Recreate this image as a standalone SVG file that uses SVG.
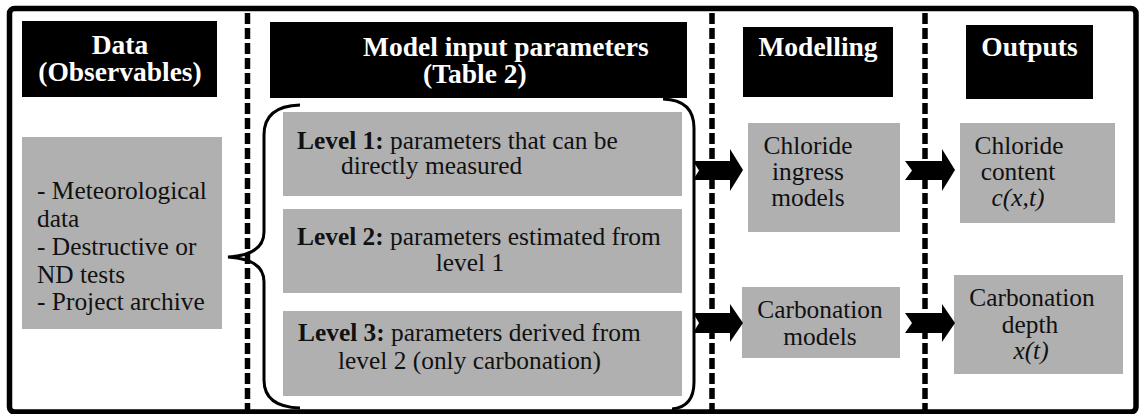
<svg xmlns="http://www.w3.org/2000/svg" width="1139" height="414" viewBox="0 0 1139 414">
<style>
.hdr{fill:#000}
.box{fill:#b0b0b0}
.ht{font-weight:bold;font-size:27.5px;fill:#fff}
.bt{font-size:25.4px;fill:#111}
.dash{stroke:#000;stroke-width:5.5;stroke-dasharray:11 4;fill:none}
.br{stroke:#000;stroke-width:3;fill:none}
.arr{fill:#000}
</style>
<rect x="9.5" y="8.5" width="1126.5" height="403.5" rx="5" fill="#fff" stroke="#000" stroke-width="5.5"/>
<g id="dividers">
<line class="dash" x1="247.5" y1="13" x2="247.5" y2="410"/>
<line class="dash" x1="712" y1="13" x2="712" y2="410"/>
<line class="dash" x1="925" y1="13" x2="925" y2="410"/>
</g>
<g id="hdr-data" font-family="serif"><rect class="hdr" x="22" y="21" width="195" height="76"/>
<text class="ht" x="120" y="54" text-anchor="middle">Data</text>
<text class="ht" x="120" y="81" text-anchor="middle">(Observables)</text></g>
<g id="hdr-params" font-family="serif"><rect class="hdr" x="270" y="22" width="417" height="76"/>
<text class="ht" x="363" y="56">Model input parameters</text>
<text class="ht" x="423" y="83">(Table 2)</text></g>
<g id="hdr-modelling" font-family="serif"><rect class="hdr" x="743" y="27" width="150" height="70"/>
<text class="ht" x="818" y="56" text-anchor="middle">Modelling</text></g>
<g id="hdr-outputs" font-family="serif"><rect class="hdr" x="966" y="25" width="127" height="74"/>
<text class="ht" x="1029.5" y="56" text-anchor="middle">Outputs</text></g>
<g id="data-box" font-family="serif"><rect class="box" x="22" y="137" width="200" height="192"/>
<text class="bt" x="37" y="199">- Meteorological</text>
<text class="bt" x="37" y="227">data</text>
<text class="bt" x="37" y="255">- Destructive or</text>
<text class="bt" x="37" y="283">ND tests</text>
<text class="bt" x="37" y="310">- Project archive</text></g>
<g id="level1" font-family="serif"><rect class="box" x="283" y="112" width="399" height="84"/>
<text class="bt" x="297" y="149"><tspan font-weight="bold">Level 1:</tspan> parameters that can be</text>
<text class="bt" x="341" y="174">directly measured</text></g>
<g id="level2" font-family="serif"><rect class="box" x="283" y="209" width="399" height="84"/>
<text class="bt" x="297" y="245"><tspan font-weight="bold">Level 2:</tspan> parameters estimated from</text>
<text class="bt" x="470" y="271" text-anchor="middle">level 1</text></g>
<g id="level3" font-family="serif"><rect class="box" x="283" y="311" width="399" height="85"/>
<text class="bt" x="298" y="341"><tspan font-weight="bold">Level 3:</tspan> parameters derived from</text>
<text class="bt" x="338" y="369">level 2 (only carbonation)</text></g>
<g id="chloride-model" font-family="serif"><rect class="box" x="748" y="123" width="152" height="109"/>
<text class="bt" x="808" y="154" text-anchor="middle">Chloride</text>
<text class="bt" x="808" y="180" text-anchor="middle">ingress</text>
<text class="bt" x="808" y="206" text-anchor="middle">models</text></g>
<g id="carbonation-model" font-family="serif"><rect class="box" x="742" y="287" width="158" height="71"/>
<text class="bt" x="820" y="318" text-anchor="middle">Carbonation</text>
<text class="bt" x="820" y="345" text-anchor="middle">models</text></g>
<g id="chloride-out" font-family="serif"><rect class="box" x="960" y="123" width="155" height="100"/>
<text class="bt" x="1019" y="154" text-anchor="middle">Chloride</text>
<text class="bt" x="1018" y="180" text-anchor="middle">content</text>
<text class="bt" x="1018" y="206" text-anchor="middle" font-style="italic">c(x,t)</text></g>
<g id="carbonation-out" font-family="serif"><rect class="box" x="954" y="275" width="169" height="99"/>
<text class="bt" x="1032" y="306" text-anchor="middle">Carbonation</text>
<text class="bt" x="1030" y="333" text-anchor="middle">depth</text>
<text class="bt" x="1031" y="359" text-anchor="middle" font-style="italic">x(t)</text></g>
<g id="connectors">
<path class="br" d="M300,105 Q264,106 264,135 L264,232 Q264,255 228,257 Q264,259 264,282 L264,380 Q264,407 300,408"/>
<path class="br" d="M663,99 Q694,100 694,128 L694,382 Q694,407 672,409"/>
<path class="arr" d="M693,161 L730,161 L730,149 L743,170 L730,191 L730,180 L693,180 L699,170.5 Z"/>
<path class="arr" d="M905,161 L942,161 L942,149 L955,170 L942,191 L942,180 L905,180 L912,170.5 Z"/>
<path class="arr" d="M693,313 L730,313 L730,304 L743,323 L730,342 L730,333 L693,333 L699,323 Z"/>
<path class="arr" d="M905,313 L942,313 L942,304 L955,323 L942,342 L942,333 L905,333 L912,323 Z"/>
</g>
</svg>
